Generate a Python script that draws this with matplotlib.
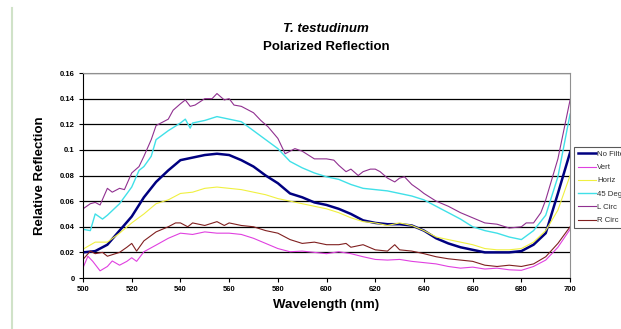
import matplotlib.pyplot as plt
from matplotlib.lines import Line2D

plt.rcParams['font.family'] = ['Liberation Sans', 'DejaVu Sans']

# Datos (longitud de onda en nm)
wl = [500, 505, 510, 515, 520, 525, 530, 535, 540, 545, 550, 555, 560, 565, 570,
      575, 580, 585, 590, 595, 600, 605, 610, 615, 620, 625, 630, 635, 640, 645,
      650, 655, 660, 665, 670, 675, 680, 685, 690, 695, 700]

no_filter = [0.020, 0.021, 0.026, 0.037, 0.048, 0.063, 0.075, 0.084, 0.092, 0.094,
             0.096, 0.097, 0.096, 0.092, 0.087, 0.080, 0.074, 0.066, 0.063, 0.059,
             0.057, 0.054, 0.050, 0.045, 0.043, 0.042, 0.042, 0.041, 0.037, 0.031,
             0.027, 0.024, 0.022, 0.020, 0.020, 0.020, 0.021, 0.026, 0.035, 0.066,
             0.098]

horiz = [0.0225, 0.028, 0.028, 0.035, 0.043, 0.050, 0.058, 0.061, 0.066, 0.067,
         0.070, 0.071, 0.070, 0.069, 0.067, 0.065, 0.062, 0.060, 0.058, 0.056,
         0.054, 0.051, 0.047, 0.044, 0.043, 0.041, 0.043, 0.041, 0.037, 0.032,
         0.030, 0.028, 0.026, 0.023, 0.022, 0.022, 0.023, 0.028, 0.037, 0.053,
         0.080]

# series ruidosas con mas puntos
wl_vert = [500, 502, 504, 507, 510, 512, 515, 518, 520, 522, 525, 530, 535, 540,
           545, 550, 555, 560, 565, 570, 575, 580, 585, 590, 595, 600, 605, 610,
           615, 620, 625, 630, 635, 640, 645, 650, 655, 660, 665, 670, 675, 680,
           685, 690, 695, 700]
vert = [0.008, 0.017, 0.013, 0.0056, 0.009, 0.0133, 0.010, 0.013, 0.0158, 0.013,
        0.0205, 0.0257, 0.031, 0.035, 0.034, 0.036, 0.035, 0.035, 0.034, 0.031,
        0.027, 0.023, 0.0205, 0.021, 0.020, 0.019, 0.0205, 0.019, 0.0166, 0.0145,
        0.014, 0.0145, 0.013, 0.012, 0.011, 0.009, 0.0077, 0.0085, 0.007, 0.0077,
        0.0064, 0.006, 0.009, 0.014, 0.024, 0.038]

wl_45 = [500, 503, 505, 508, 510, 515, 520, 523, 525, 528, 530, 535, 540, 542, 544,
         545, 550, 555, 560, 565, 570, 575, 580, 585, 590, 595, 600, 605, 610, 615,
         620, 625, 630, 635, 640, 645, 650, 655, 660, 665, 670, 675, 680, 685, 690,
         695, 700]
deg45 = [0.038, 0.037, 0.050, 0.046, 0.049, 0.058, 0.071, 0.084, 0.087, 0.095,
         0.108, 0.115, 0.121, 0.124, 0.117, 0.121, 0.123, 0.126, 0.124, 0.122,
         0.115, 0.108, 0.101, 0.091, 0.086, 0.082, 0.079, 0.077, 0.073, 0.070,
         0.069, 0.068, 0.066, 0.064, 0.061, 0.056, 0.051, 0.046, 0.040, 0.037,
         0.035, 0.032, 0.030, 0.037, 0.049, 0.079, 0.128]

wl_lc = [500, 503, 505, 507, 510, 512, 515, 517, 520, 523, 525, 528, 530, 535, 537,
         540, 542, 544, 546, 550, 553, 555, 558, 560, 562, 565, 570, 573, 576, 580,
         583, 587, 590, 595, 600, 603, 605, 608, 610, 613, 615, 618, 620, 622, 625,
         628, 630, 632, 635, 638, 640, 645, 650, 655, 660, 665, 670, 675, 680, 682,
         685, 688, 690, 695, 700]
l_circ = [0.054, 0.058, 0.059, 0.057, 0.070, 0.067, 0.070, 0.069, 0.082, 0.087,
          0.095, 0.108, 0.119, 0.124, 0.131, 0.136, 0.139, 0.134, 0.135, 0.140,
          0.140, 0.144, 0.139, 0.140, 0.135, 0.134, 0.129, 0.123, 0.118, 0.109,
          0.097, 0.101, 0.099, 0.093, 0.093, 0.092, 0.088, 0.083, 0.085, 0.080,
          0.083, 0.085, 0.085, 0.083, 0.078, 0.075, 0.078, 0.079, 0.073, 0.069,
          0.066, 0.060, 0.056, 0.051, 0.047, 0.043, 0.042, 0.039, 0.040, 0.043,
          0.043, 0.051, 0.061, 0.093, 0.139]

wl_rc = [500, 503, 505, 508, 510, 515, 518, 520, 522, 525, 530, 535, 538, 540, 543,
         545, 550, 555, 558, 560, 565, 570, 575, 580, 585, 590, 595, 600, 605, 608,
         610, 615, 620, 625, 628, 630, 635, 640, 645, 650, 655, 660, 665, 670, 675,
         680, 685, 690, 695, 700]
r_circ = [0.0145, 0.021, 0.019, 0.020, 0.017, 0.020, 0.024, 0.027, 0.021, 0.029,
          0.036, 0.040, 0.043, 0.043, 0.040, 0.043, 0.041, 0.044, 0.041, 0.043,
          0.041, 0.040, 0.037, 0.035, 0.030, 0.027, 0.028, 0.026, 0.026, 0.027,
          0.024, 0.026, 0.022, 0.021, 0.026, 0.022, 0.021, 0.019, 0.0166, 0.015,
          0.014, 0.013, 0.010, 0.009, 0.010, 0.009, 0.011, 0.0166, 0.027, 0.040]

fig = plt.figure(figsize=(6.21, 3.29), dpi=100)
ax = fig.add_axes([0.1337, 0.155, 0.7843, 0.623])

# linea verde clara a la izquierda de la imagen
fig.add_artist(Line2D([12 / 621, 12 / 621], [0, 1 - 8 / 329], color='#d0e2c8', lw=1.5))

ax.plot(wl, no_filter, color='#000080', lw=1.8, label='No Filter')
ax.plot(wl_vert, vert, color='#e040e0', lw=0.8, label='Vert')
ax.plot(wl, horiz, color='#f0f040', lw=0.8, label='Horiz')
ax.plot(wl_45, deg45, color='#40e0e8', lw=1.0, label='45 Deg')
ax.plot(wl_lc, l_circ, color='#903090', lw=0.8, label='L Circ')
ax.plot(wl_rc, r_circ, color='#802020', lw=0.8, label='R Circ')

ax.set_xlim(500, 700)
ax.set_ylim(0, 0.16)
ax.set_xticks(range(500, 701, 20))
ax.set_yticks([0, 0.02, 0.04, 0.06, 0.08, 0.1, 0.12, 0.14, 0.16])
ax.set_yticklabels(['0', '0.02', '0.04', '0.06', '0.08', '0.1', '0.12', '0.14', '0.16'])
ax.grid(True, axis='y', color='black', lw=0.9)
ax.set_axisbelow(True)
ax.tick_params(labelsize=5.5, length=3, width=0.8, pad=3)
for lab in ax.get_xticklabels() + ax.get_yticklabels():
    lab.set_fontweight('bold')

for s in ['top', 'right']:
    ax.spines[s].set_color('#909090')
for s in ['left', 'bottom']:
    ax.spines[s].set_color('black')
    ax.spines[s].set_linewidth(0.8)

ax.set_xlabel('Wavelength (nm)', fontsize=9.5, fontweight='bold', labelpad=4)
ax.set_ylabel('Relative Reflection', fontsize=9.5, fontweight='bold', labelpad=10)

fig.text(0.525, 1 - 29 / 329, 'T. testudinum', ha='center', va='center',
         fontsize=9.5, fontweight='bold', style='italic')
fig.text(0.525, 1 - 47 / 329, 'Polarized Reflection', ha='center', va='center',
         fontsize=9.5, fontweight='bold')

leg = ax.legend(loc='upper left', bbox_to_anchor=(574 / 621, 1 - 147 / 329),
                bbox_transform=fig.transFigure, fontsize=5.6, frameon=True,
                fancybox=False, edgecolor='#303030', handlelength=2.4,
                handletextpad=0.1, labelspacing=0.75, borderpad=0.45, borderaxespad=0)
leg.get_frame().set_linewidth(0.8)
for t in leg.get_texts():
    t.set_color('#303030')

fig.savefig('out.png', dpi=100)
